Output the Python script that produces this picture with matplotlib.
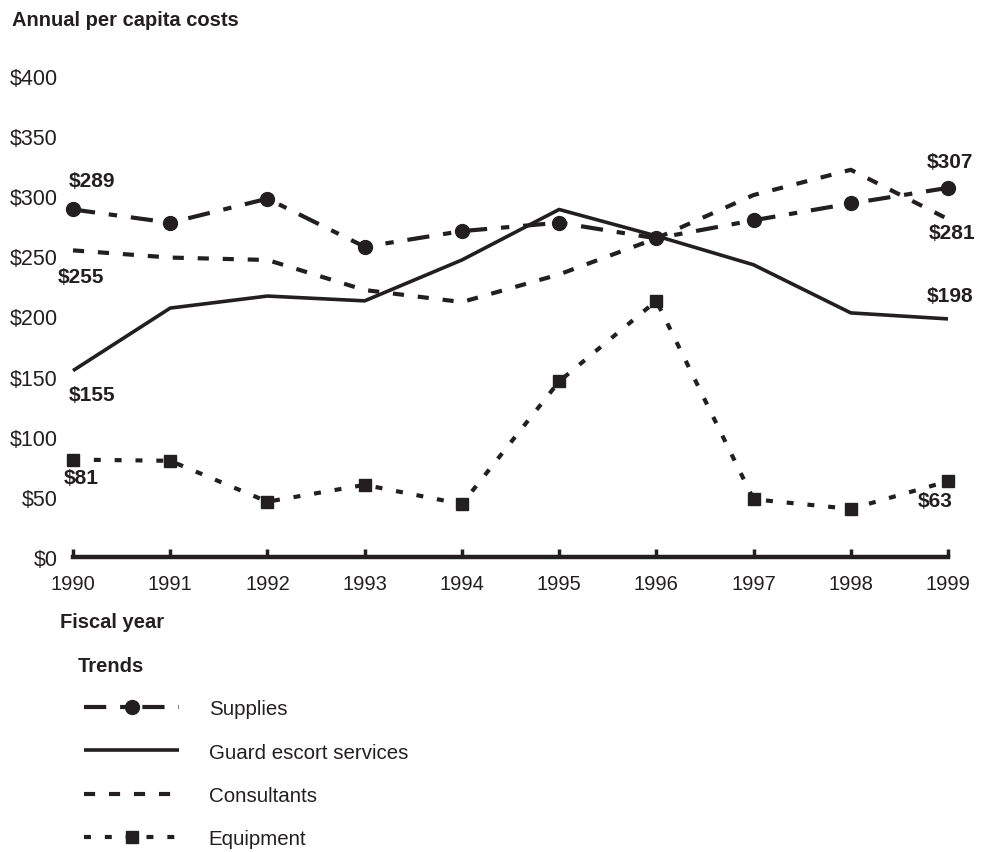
import matplotlib.pyplot as plt

plt.rcParams['font.family'] = ['Liberation Sans', 'DejaVu Sans']
plt.rcParams['lines.scale_dashes'] = False

# data
years = [1990, 1991, 1992, 1993, 1994, 1995, 1996, 1997, 1998, 1999]
supplies = [289, 278, 298, 258, 271, 278, 265, 280, 294, 307]
guard = [155, 207, 217, 213, 247, 289, 267, 243, 203, 198]
consultants = [255, 249, 247, 222, 212, 235, 265, 301, 322, 281]
equipment = [81, 80, 46, 60, 44, 146, 213, 48, 40, 63]
y_ticks = [0, 50, 100, 150, 200, 250, 300, 350, 400]

ink = '#231f20'

fig = plt.figure(figsize=(9.86, 8.53), dpi=100)
ax = fig.add_axes([73 / 986, 1 - 558 / 853, 875 / 986, 481 / 853])

l_sup, = ax.plot(years, supplies, color=ink, lw=3, dashes=(16, 10, 6, 10),
                 marker='o', ms=10, clip_on=False, label='Supplies')
l_grd, = ax.plot(years, guard, color=ink, lw=2.6, clip_on=False,
                 solid_capstyle='butt', label='Guard escort services')
l_con, = ax.plot(years, consultants, color=ink, lw=3, dashes=(8, 10),
                 clip_on=False, label='Consultants')
l_eq, = ax.plot(years, equipment, color=ink, lw=3, dashes=(5, 10),
                marker='s', ms=9, clip_on=False, label='Equipment')

ax.set_xlim(1990, 1999)
ax.set_ylim(0, 400)
ax.set_xticks(years)
ax.set_yticks(y_ticks)
ax.set_yticklabels(['$' + str(v) for v in y_ticks])
for s in ['top', 'right', 'left']:
    ax.spines[s].set_visible(False)
ax.spines['bottom'].set_linewidth(3.2)
ax.spines['bottom'].set_color(ink)
ax.tick_params(axis='y', length=0, pad=11, labelsize=15.5, colors=ink)
ax.tick_params(axis='x', direction='in', length=6, width=2.5, pad=12,
               labelsize=14.5, colors=ink)

# end-point value labels
bold = dict(fontsize=15, fontweight='bold', color=ink)
ax.annotate('$' + str(supplies[0]), (years[0], supplies[0]), xytext=(-3, 14),
            textcoords='offset points', ha='left', va='bottom', **bold)
ax.annotate('$' + str(consultants[0]), (years[0], consultants[0]), xytext=(-11, -12),
            textcoords='offset points', ha='left', va='top', **bold)
ax.annotate('$' + str(guard[0]), (years[0], guard[0]), xytext=(-3, -10),
            textcoords='offset points', ha='left', va='top', **bold)
ax.annotate('$' + str(equipment[0]), (years[0], equipment[0]), xytext=(-7, -6),
            textcoords='offset points', ha='left', va='top', **bold)
ax.annotate('$' + str(supplies[-1]), (years[-1], supplies[-1]), xytext=(18, 12),
            textcoords='offset points', ha='right', va='bottom', **bold)
ax.annotate('$' + str(consultants[-1]), (years[-1], consultants[-1]), xytext=(20, -3),
            textcoords='offset points', ha='right', va='top', **bold)
ax.annotate('$' + str(guard[-1]), (years[-1], guard[-1]), xytext=(18, 10),
            textcoords='offset points', ha='right', va='bottom', **bold)
ax.annotate('$' + str(equipment[-1]), (years[-1], equipment[-1]), xytext=(3, -7),
            textcoords='offset points', ha='right', va='top', **bold)

fig.text(12 / 986, 1 - 20 / 853, 'Annual per capita costs', fontsize=14.5,
         fontweight='bold', color=ink, va='center')
fig.text(60 / 986, 1 - 623 / 853, 'Fiscal year', fontsize=14.5,
         fontweight='bold', color=ink, va='center')
fig.text(78 / 986, 1 - 667 / 853, 'Trends', fontsize=14.5,
         fontweight='bold', color=ink, va='center')

fig.legend(handles=[l_sup, l_grd, l_con, l_eq], loc='upper left',
           bbox_to_anchor=(74 / 986, 1 - 690 / 853), frameon=False,
           fontsize=14.8, handlelength=4.6, handletextpad=1.45,
           labelspacing=1.18, numpoints=1, borderpad=0, labelcolor=ink)

fig.savefig('out.png', dpi=100)
